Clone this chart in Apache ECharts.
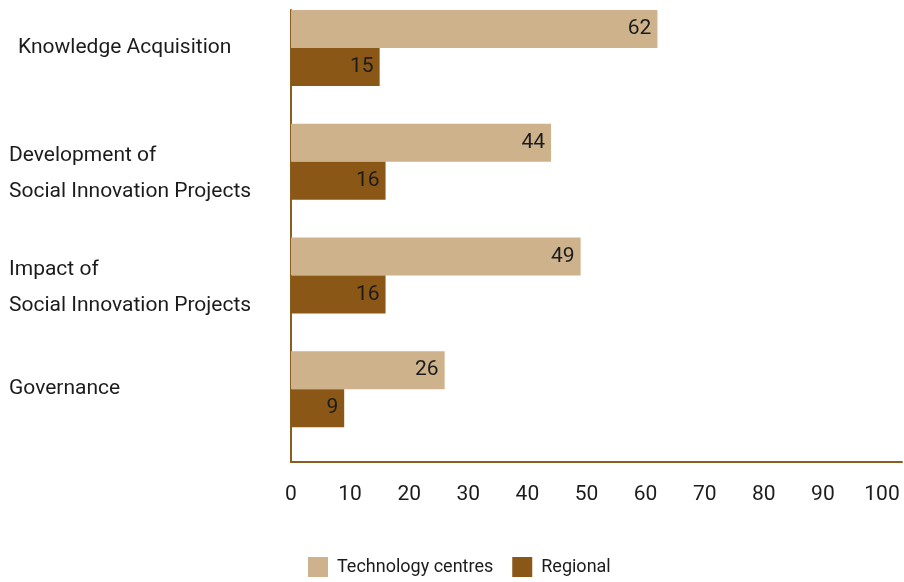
<!DOCTYPE html>
<html>
<head>
<meta charset="utf-8">
<script src="https://cdn.jsdelivr.net/npm/echarts@6/dist/echarts.min.js"></script>
<style>
  html, body { margin: 0; padding: 0; background: #ffffff; }
  #chart { width: 904px; height: 582px; }
</style>
</head>
<body>
<div id="chart"></div>
<script>
// Survey areas and shares (%) per group
const categories = [
  'Knowledge Acquisition',
  'Development of\nSocial Innovation Projects',
  'Impact of\nSocial Innovation Projects',
  'Governance'
];
const technologyCentres = [62, 44, 49, 26];
const regional = [15, 16, 16, 9];
const xTicks = [0, 10, 20, 30, 40, 50, 60, 70, 80, 90, 100];

const TAN = '#cdb28b';
const BROWN = '#8a5716';
const AXIS = '#8d5d1f';
const TEXT = '#1c1c1c';
const FONT = 'Roboto, "Liberation Sans", sans-serif';

const chart = echarts.init(document.getElementById('chart'), null, { renderer: 'canvas' });

// Category label: two-line labels get a spacer line on top so they sit a little lower,
// the first label is indented.
function categoryLabel(value, index) {
  const lines = value.split('\n');
  if (lines.length > 1) {
    return '{s| }\n' + lines.map(l => '{t|' + l + '}').join('\n');
  }
  return index === 0 ? '{k|' + value + '}' : '{t|' + value + '}';
}

chart.setOption({
  animation: false,
  textStyle: { fontFamily: FONT },
  legend: {
    left: 308,
    bottom: 5,
    padding: 0,
    itemWidth: 20,
    itemHeight: 20,
    itemGap: 19,
    icon: 'rect',
    textStyle: { fontFamily: FONT, fontSize: 18, color: TEXT, padding: [0, 0, 0, 4] },
    data: ['Technology centres', 'Regional']
  },
  grid: [
    // bar area
    { left: 291, width: 591, top: -9, height: 455, outerBoundsMode: 'none', containLabel: false },
    // frame with axis lines and ticks
    { left: 291, top: 10, height: 452, right: 2, outerBoundsMode: 'none', containLabel: false }
  ],
  xAxis: [
    {
      gridIndex: 0, type: 'value', min: 0, max: 100, show: false
    },
    {
      gridIndex: 1, type: 'value', min: 0, max: 611 / 591 * 100,
      interval: 10,
      axisLine: { show: true, lineStyle: { color: AXIS, width: 2 } },
      axisTick: { show: false },
      splitLine: { show: false },
      axisLabel: {
        showMaxLabel: false,
        margin: 22,
        fontSize: 21,
        color: TEXT,
        fontFamily: FONT,
        formatter: v => (xTicks.indexOf(v) >= 0 ? String(v) : '')
      }
    }
  ],
  yAxis: [
    {
      gridIndex: 0, type: 'category', inverse: true, data: categories,
      axisLine: { show: false },
      axisTick: { show: false },
      axisLabel: {
        align: 'left',
        margin: 282,
        fontSize: 21,
        color: TEXT,
        fontFamily: FONT,
        formatter: categoryLabel,
        rich: {
          t: { fontSize: 21, lineHeight: 36, color: TEXT, fontFamily: FONT },
          k: { fontSize: 21, lineHeight: 36, color: TEXT, fontFamily: FONT, padding: [0, 0, 0, 9] },
          s: { fontSize: 10, lineHeight: 24 }
        }
      }
    },
    {
      gridIndex: 1, type: 'value', min: 0, max: 1,
      axisLine: { show: true, lineStyle: { color: AXIS, width: 2 } },
      axisTick: { show: false },
      axisLabel: { show: false },
      splitLine: { show: false }
    }
  ],
  series: [
    {
      name: 'Technology centres', type: 'bar',
      xAxisIndex: 0, yAxisIndex: 0,
      data: technologyCentres,
      barWidth: 38, barGap: '0%',
      itemStyle: { color: TAN },
      label: {
        show: true, position: 'insideRight', distance: 6,
        fontSize: 21, color: TEXT, fontFamily: FONT
      }
    },
    {
      name: 'Regional', type: 'bar',
      xAxisIndex: 0, yAxisIndex: 0,
      data: regional,
      barWidth: 38, barGap: '0%',
      itemStyle: { color: BROWN },
      label: {
        show: true, position: 'insideRight', distance: 6,
        fontSize: 21, color: TEXT, fontFamily: FONT
      }
    }
  ]
});
</script>
</body>
</html>
